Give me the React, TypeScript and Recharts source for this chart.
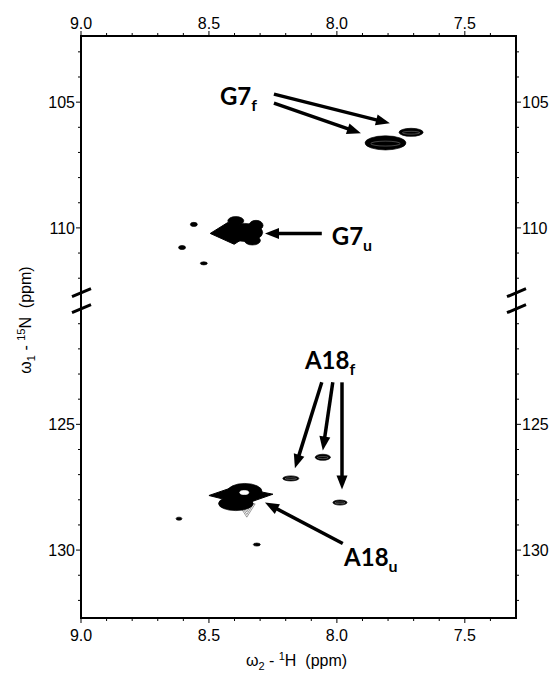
import React from 'react';
import { ScatterChart, Scatter, XAxis, YAxis, ReferenceLine, ReferenceDot } from 'recharts';

// ---------------- data ----------------
const xTicks = [9.0, 8.9, 8.8, 8.7, 8.6, 8.5, 8.4, 8.3, 8.2, 8.1, 8.0, 7.9, 7.8, 7.7, 7.6, 7.5, 7.4];
const xLabels = [9.0, 8.5, 8.0, 7.5];
const yTicksUpper = [103, 104, 105, 106, 107, 108, 109, 110, 111, 112];
const yTicksLower = [121, 122, 123, 124, 125, 126, 127, 128, 129, 130, 131, 132];
const yLabels = [105, 110, 125, 130];

// peaks: h = 1H ppm, n = 15N ppm, wh / wn = contour widths (ppm)
const g7fPeaks = [
  { h: 7.81, n: 106.62, wh: 0.16, wn: 0.56 },
  { h: 7.71, n: 106.2, wh: 0.094, wn: 0.32 },
];
const g7uCore = [{ h: 8.41, n: 110.22, wh: 0.17, wn: 0.86 }];
const g7uLobes = [
  { h: 8.36, n: 110.18, wh: 0.14, wn: 0.72 },
  { h: 8.395, n: 109.72, wh: 0.0625, wn: 0.34 },
  { h: 8.316, n: 109.9, wh: 0.055, wn: 0.4 },
  { h: 8.33, n: 110.5, wh: 0.0625, wn: 0.36 },
];
const a18fPeaks = [
  { h: 8.18, n: 127.15, wh: 0.0625, wn: 0.2 },
  { h: 8.055, n: 126.31, wh: 0.059, wn: 0.24 },
  { h: 7.988, n: 128.11, wh: 0.055, wn: 0.2 },
];
const a18uCore = [{ h: 8.375, n: 127.83, wh: 0.25, wn: 0.7 }];
const a18uLobes = [
  { h: 8.36, n: 127.67, wh: 0.135, wn: 0.64 },
  { h: 8.395, n: 128.15, wh: 0.135, wn: 0.56 },
];
const a18uHoles = [{ h: 8.362, n: 127.71, wh: 0.035, wn: 0.16 }];
const a18uFringe = [{ h: 8.352, n: 128.36, wh: 0.065, wn: 0.66 }];
const minorPeaks = [
  { h: 8.559, n: 109.86, wh: 0.027, wn: 0.16 },
  { h: 8.605, n: 110.78, wh: 0.027, wn: 0.16 },
  { h: 8.52, n: 111.41, wh: 0.027, wn: 0.12 },
  { h: 8.617, n: 128.75, wh: 0.023, wn: 0.12 },
  { h: 8.313, n: 129.78, wh: 0.027, wn: 0.12 },
];

// annotation arrows: tail -> tip (ppm)
const arrowTailH = [8.246, 8.246, 8.059, 8.059, 8.016, 7.98, 7.977];
const arrowTailN = [104.68, 105.04, 110.22, 123.33, 123.33, 123.33, 129.74];
const arrowTipH = [7.793, 7.906, 8.281, 8.164, 8.055, 7.98, 8.281];
const arrowTipN = [105.84, 106.24, 110.22, 126.75, 126.04, 127.59, 128.11];

// annotation labels
const noteText = ['G7', 'G7', 'A18', 'A18'];
const noteSub = ['f', 'u', 'f', 'u'];
const noteH = [8.457, 8.02, 8.125, 7.972];
const noteN = [105.12, 110.66, 122.81, 130.62];

// ---------------- axis break (15N) ----------------
const UPPER_END = 112.4;
const LOWER_START = 120.5;
const N_OFFSET = 7.19;
const toD = (n: number) => (n <= (UPPER_END + LOWER_START) / 2 ? n : n - N_OFFSET);
const BREAK_D = (UPPER_END + LOWER_START - N_OFFSET) / 2;
const fromD = (d: number) => (d > BREAK_D ? d + N_OFFSET : d);

const X_MIN = 7.3, X_MAX = 9.0;
const D_MIN = 102.37, D_MAX = 132.7 - N_OFFSET;

// ---------------- layout ----------------
const CHART_W = 554, CHART_H = 675;
const AX_LEFT_W = 81, AX_RIGHT_W = 38, AX_TOP_H = 36, AX_BOTTOM_H = 57;
const PLOT_W = CHART_W - AX_LEFT_W - AX_RIGHT_W;
const PLOT_H = CHART_H - AX_TOP_H - AX_BOTTOM_H;
const PX_H = PLOT_W / (X_MAX - X_MIN);
const PX_N = PLOT_H / (D_MAX - D_MIN);

const FONT_TICK = '"Liberation Sans", Arial, Helvetica, sans-serif';
const FONT_NOTE = 'Lato, "Open Sans", sans-serif';
const TICK_FS = 16;

const prep = (arr: { h: number; n: number; wh: number; wn: number }[]) =>
  arr.map((p) => ({ ...p, d: toD(p.n) }));

const yTicks = [...yTicksUpper, ...yTicksLower.map(toD)];

function XTick(props: any) {
  const { x, y, payload, side } = props;
  const v = payload.value;
  const major = xLabels.some((l) => Math.abs(l - v) < 1e-6);
  const dir = side === 'top' ? -1 : 1;
  const len = major ? 5 : 3;
  return (
    <g>
      <line x1={x} y1={y} x2={x} y2={y + dir * len} stroke="#000" strokeWidth={1} />
      {major && (
        <text x={x} y={side === 'top' ? y - 7 : y + 23} textAnchor="middle" fontSize={TICK_FS} fontFamily={FONT_TICK} fill="#000">
          {v.toFixed(1)}
        </text>
      )}
    </g>
  );
}

function YTick(props: any) {
  const { x, y, payload, side } = props;
  const n = fromD(payload.value);
  const rn = Math.round(n);
  const major = Math.abs(n - rn) < 0.01 && yLabels.includes(rn);
  const dir = side === 'left' ? -1 : 1;
  const len = major ? 5 : 3;
  return (
    <g>
      <line x1={x} y1={y} x2={x + dir * len} y2={y} stroke="#000" strokeWidth={1} />
      {major && (
        <text x={x + dir * 6} y={y} dy="0.36em" textAnchor={side === 'left' ? 'end' : 'start'} fontSize={TICK_FS} fontFamily={FONT_TICK} fill="#000">
          {rn}
        </text>
      )}
    </g>
  );
}

const radii = (payload: any) => [(payload.wh * PX_H) / 2, (payload.wn * PX_N) / 2];

const ellipseShape = (fill: string, ring: boolean) => (props: any) => {
  const { cx, cy, payload } = props;
  if (cx == null || cy == null) return <g />;
  const [rx, ry] = radii(payload);
  return (
    <g>
      <ellipse cx={cx} cy={cy} rx={rx} ry={ry} fill={fill} stroke={fill} strokeWidth={0.7} />
      {ring && rx > 6 && (
        <ellipse cx={cx} cy={cy + ry * 0.1} rx={rx * 0.72} ry={ry * 0.35} fill="none" stroke="#fff" strokeWidth={0.5} strokeOpacity={0.55} />
      )}
      {ring && rx > 3 && rx <= 6 && (
        <ellipse cx={cx} cy={cy} rx={rx * 0.5} ry={ry * 0.35} fill="none" stroke="#fff" strokeWidth={0.5} strokeOpacity={0.55} />
      )}
    </g>
  );
};

const diamondShape = (props: any) => {
  const { cx, cy, payload } = props;
  if (cx == null || cy == null) return <g />;
  const [rx, ry] = radii(payload);
  return (
    <polygon
      points={`${cx - rx},${cy} ${cx - rx * 0.2},${cy - ry} ${cx + rx},${cy - ry * 0.15} ${cx + rx * 0.1},${cy + ry}`}
      fill="#000" stroke="#000" strokeWidth={1} strokeLinejoin="round"
    />
  );
};

const fringeShape = (props: any) => {
  const { cx, cy, payload } = props;
  if (cx == null || cy == null) return <g />;
  const [rx, ry] = radii(payload);
  const tri = (k: number) => `${cx - rx * k},${cy - ry * 0.6} ${cx + rx * k},${cy - ry * 0.6} ${cx},${cy - ry * 0.6 + ry * 1.6 * k}`;
  return (
    <g fill="none" stroke="#555" strokeWidth={0.6}>
      <polygon points={tri(1)} />
      <polygon points={tri(0.8)} />
      <polygon points={tri(0.6)} />
      <polygon points={tri(0.4)} />
    </g>
  );
};

function ArrowShape(p: any) {
  const x1 = Number(p.x1), y1 = Number(p.y1), x2 = Number(p.x2), y2 = Number(p.y2);
  const dx = x2 - x1, dy = y2 - y1;
  const L = Math.hypot(dx, dy) || 1;
  const ux = dx / L, uy = dy / L;
  const hl = 14, hw = 5.5;
  const bx = x2 - ux * hl, by = y2 - uy * hl;
  return (
    <g>
      <line x1={x1} y1={y1} x2={bx + ux * 2} y2={by + uy * 2} stroke="#000" strokeWidth={3.5} />
      <polygon points={`${x2},${y2} ${bx - uy * hw},${by + ux * hw} ${bx + uy * hw},${by - ux * hw}`} fill="#000" />
    </g>
  );
}

function BreakShape(p: any) {
  const { cx, cy } = p;
  return (
    <g stroke="#000" strokeWidth={3}>
      <line x1={cx - 9} y1={cy - 3} x2={cx + 10} y2={cy - 11} />
      <line x1={cx - 9} y1={cy + 13} x2={cx + 10} y2={cy + 5} />
    </g>
  );
}

const noteShape = (text: string, sub: string) => (p: any) => (
  <text x={p.cx} y={p.cy} fontFamily={FONT_NOTE} fontWeight={700} fontSize={24} fill="#000">
    {text}
    <tspan fontSize={16} dy={6}>{sub}</tspan>
  </text>
);

const leftTitle = (props: any) => {
  const vb = props && props.viewBox ? props.viewBox : { x: 0, y: AX_TOP_H, width: AX_LEFT_W, height: PLOT_H };
  const x = vb.x + 31;
  const y = vb.y + vb.height / 2 - 7;
  return (
    <text x={x} y={y} transform={`rotate(-90, ${x}, ${y})`} textAnchor="middle" fontSize={16} fontFamily={FONT_TICK} fill="#000" style={{ whiteSpace: 'pre' }}>
      ω<tspan fontSize={11} dy={4}>1</tspan>
      <tspan dy={-4}> - </tspan>
      <tspan fontSize={11} dy={-6}>15</tspan>
      <tspan dy={6}>N  (ppm)</tspan>
    </text>
  );
};

const bottomTitle = (props: any) => {
  const vb = props && props.viewBox ? props.viewBox : { x: AX_LEFT_W, y: CHART_H - AX_BOTTOM_H, width: PLOT_W, height: AX_BOTTOM_H };
  const x = vb.x + vb.width / 2 - 2;
  const y = vb.y + 48;
  return (
    <text x={x} y={y} textAnchor="middle" fontSize={16} fontFamily={FONT_TICK} fill="#000" style={{ whiteSpace: 'pre' }}>
      ω<tspan fontSize={11} dy={4}>2</tspan>
      <tspan dy={-4}> - </tspan>
      <tspan fontSize={11} dy={-6}>1</tspan>
      <tspan dy={6}>H  (ppm)</tspan>
    </text>
  );
};

const axisLineStyle = { stroke: '#000', strokeWidth: 2, strokeLinecap: 'square' as const };

export default function App() {
  return (
    <div style={{ position: 'absolute', left: 0, top: 0, background: '#fff' }}>
      <ScatterChart width={CHART_W} height={CHART_H} margin={{ top: 0, right: 0, bottom: 0, left: 0 }}>
        <XAxis
          xAxisId="b" orientation="bottom" type="number" dataKey="h" domain={[X_MIN, X_MAX]} reversed allowDataOverflow
          ticks={xTicks} interval={0} height={AX_BOTTOM_H} tickSize={0} tickMargin={0} tickLine={false}
          axisLine={axisLineStyle} tick={<XTick side="bottom" />} label={bottomTitle}
        />
        <XAxis
          xAxisId="t" orientation="top" type="number" dataKey="h" domain={[X_MIN, X_MAX]} reversed allowDataOverflow
          ticks={xTicks} interval={0} height={AX_TOP_H} tickSize={0} tickMargin={0} tickLine={false}
          axisLine={axisLineStyle} tick={<XTick side="top" />}
        />
        <YAxis
          yAxisId="l" orientation="left" type="number" dataKey="d" domain={[D_MIN, D_MAX]} reversed allowDataOverflow
          ticks={yTicks} interval={0} width={AX_LEFT_W} tickSize={0} tickMargin={0} tickLine={false}
          axisLine={axisLineStyle} tick={<YTick side="left" />} label={leftTitle}
        />
        <YAxis
          yAxisId="r" orientation="right" type="number" dataKey="d" domain={[D_MIN, D_MAX]} reversed allowDataOverflow
          ticks={yTicks} interval={0} width={AX_RIGHT_W} tickSize={0} tickMargin={0} tickLine={false}
          axisLine={axisLineStyle} tick={<YTick side="right" />}
        />

        <Scatter xAxisId="b" yAxisId="l" data={prep(a18uFringe)} shape={fringeShape} isAnimationActive={false} />
        <Scatter xAxisId="b" yAxisId="l" data={prep(g7fPeaks)} shape={ellipseShape('#000', true)} isAnimationActive={false} />
        <Scatter xAxisId="b" yAxisId="l" data={prep(g7uCore)} shape={diamondShape} isAnimationActive={false} />
        <Scatter xAxisId="b" yAxisId="l" data={prep(g7uLobes)} shape={ellipseShape('#000', false)} isAnimationActive={false} />
        <Scatter xAxisId="b" yAxisId="l" data={prep(a18fPeaks)} shape={ellipseShape('#000', true)} isAnimationActive={false} />
        <Scatter xAxisId="b" yAxisId="l" data={prep(a18uCore)} shape={diamondShape} isAnimationActive={false} />
        <Scatter xAxisId="b" yAxisId="l" data={prep(a18uLobes)} shape={ellipseShape('#000', false)} isAnimationActive={false} />
        <Scatter xAxisId="b" yAxisId="l" data={prep(minorPeaks)} shape={ellipseShape('#000', false)} isAnimationActive={false} />
        <Scatter xAxisId="b" yAxisId="l" data={prep(a18uHoles)} shape={ellipseShape('#fff', false)} isAnimationActive={false} />

        {arrowTailH.map((_, i) => (
          <ReferenceLine
            key={`ar${i}`} xAxisId="b" yAxisId="l" ifOverflow="visible"
            segment={[{ x: arrowTailH[i], y: toD(arrowTailN[i]) }, { x: arrowTipH[i], y: toD(arrowTipN[i]) }]}
            shape={ArrowShape}
          />
        ))}
        {noteText.map((t, i) => (
          <ReferenceDot key={`nt${i}`} xAxisId="b" yAxisId="l" ifOverflow="visible" x={noteH[i]} y={toD(noteN[i])} shape={noteShape(t, noteSub[i])} />
        ))}
        <ReferenceDot xAxisId="b" yAxisId="l" ifOverflow="visible" x={X_MAX} y={BREAK_D} shape={BreakShape} />
        <ReferenceDot xAxisId="b" yAxisId="l" ifOverflow="visible" x={X_MIN} y={BREAK_D} shape={BreakShape} />
      </ScatterChart>
    </div>
  );
}
